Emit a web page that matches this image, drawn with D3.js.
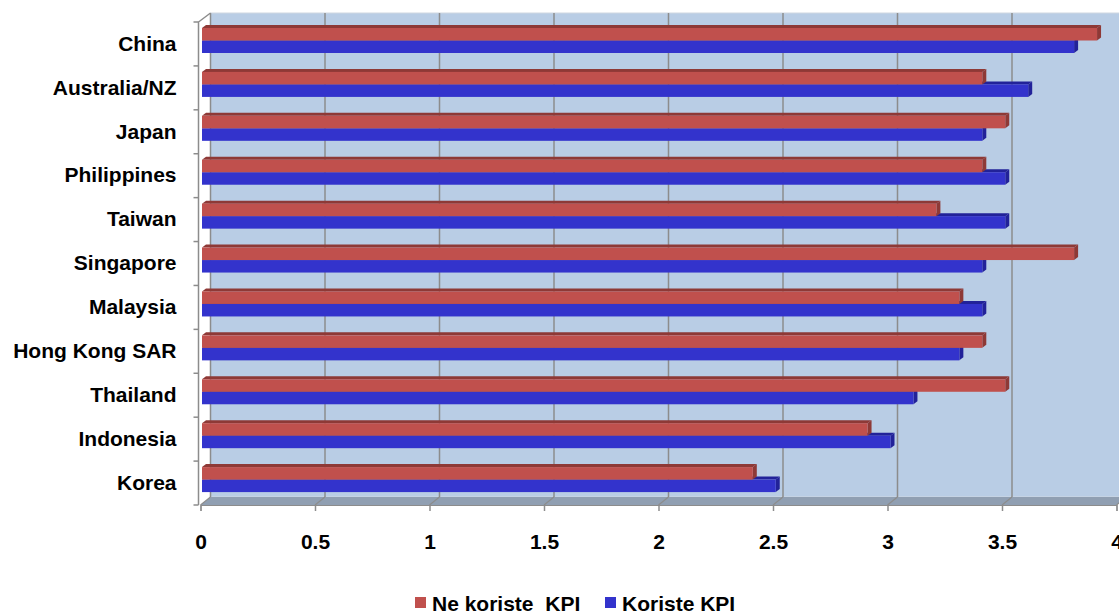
<!DOCTYPE html>
<html>
<head>
<meta charset="UTF-8">
<title>KPI</title>
<script src="https://d3js.org/d3.v7.min.js"></script>
<style>
  body { margin: 0; background: #fff; }
  text { font-family: "Liberation Sans", Arial, sans-serif; font-weight: bold; font-size: 21px; fill: #000; }
  .axis path, .axis line { stroke: #8c8c8c; }
</style>
</head>
<body>
<div id="chart"></div>
<script>
const countries = ["China", "Australia/NZ", "Japan", "Philippines", "Taiwan", "Singapore",
                   "Malaysia", "Hong Kong SAR", "Thailand", "Indonesia", "Korea"];
const seriesNames = ["Ne koriste  KPI", "Koriste KPI"];
const neKoriste = [3.9, 3.4, 3.5, 3.4, 3.2, 3.8, 3.3, 3.4, 3.5, 2.9, 2.4];
const koriste   = [3.8, 3.6, 3.4, 3.5, 3.5, 3.4, 3.4, 3.3, 3.1, 3.0, 2.5];
const xTicks = [0, 0.5, 1, 1.5, 2, 2.5, 3, 3.5, 4];
const colors = ["#c0504d", "#3333cc"];
const darker = ["#8e3936", "#222299"];

const W = 1119, H = 612;
const svg = d3.select("#chart").append("svg").attr("width", W).attr("height", H);

// 3D frame: front plane and back wall offset
const dx = 10, dy = -8;
const frontTop = 22, frontBottom = 505;
const xFront = d3.scaleLinear().domain([0, 4]).range([200.5, 1116.5]);
const xBack = d3.scaleLinear().domain([0, 4]).range([200.5 + dx, 1116.5 + dx]);
const xBar = d3.scaleLinear().domain([0, 4]).range([202, 202 + 4 * 229.5]);

const y0 = d3.scaleBand().domain(countries).range([frontTop, frontBottom]);
const y1 = d3.scaleBand().domain(seriesNames).range([6, 31]);

// back wall
svg.append("rect")
  .attr("x", xBack(0)).attr("y", frontTop + dy - 1)
  .attr("width", xBack(4) - xBack(0)).attr("height", frontBottom - frontTop + 1)
  .attr("fill", "#b9cde5").attr("stroke", "#d0d8e2");

// back wall gridlines
svg.selectAll(".grid").data(xTicks).enter().append("line")
  .attr("x1", d => xBack(d)).attr("x2", d => xBack(d))
  .attr("y1", frontTop + dy - 1).attr("y2", frontBottom + dy)
  .attr("stroke", "#8c8c8c").attr("stroke-width", 1.5);

// floor
svg.append("polygon")
  .attr("points", [[xFront(0), frontBottom], [xFront(4), frontBottom],
                   [xBack(4), frontBottom + dy], [xBack(0), frontBottom + dy]].join(" "))
  .attr("fill", "#909fb2");
svg.selectAll(".fgrid").data(xTicks).enter().append("line")
  .attr("x1", d => xFront(d)).attr("y1", frontBottom)
  .attr("x2", d => xBack(d)).attr("y2", frontBottom + dy)
  .attr("stroke", "#8c8c8c").attr("stroke-width", 1.2);

// left wall edges
svg.append("path")
  .attr("d", `M${xFront(0) - 2},${frontBottom} L${xFront(0) - 2},${frontTop} L${xBack(0)},${frontTop + dy - 1}`)
  .attr("fill", "none").attr("stroke", "#8c8c8c").attr("stroke-width", 1.5);

// category boundary ticks on left
const bounds = countries.map(c => y0(c)).concat([frontBottom]);
svg.selectAll(".ltick").data(bounds).enter().append("line")
  .attr("x1", xFront(0) - 7).attr("x2", xFront(0) - 2)
  .attr("y1", d => d).attr("y2", d => d)
  .attr("stroke", "#8c8c8c").attr("stroke-width", 1.5);

// bars
const bd = { x: 4, y: -3 };
const rows = countries.map((c, i) => [
  { c, s: 0, v: neKoriste[i] },
  { c, s: 1, v: koriste[i] }
]);
const g = svg.append("g");
rows.forEach(pair => {
  // draw blue first then red so red front covers blue top face
  [pair[1], pair[0]].forEach(d => {
    const yt = y0(d.c) + y1(seriesNames[d.s]);
    const h = y1.bandwidth();
    const x0 = xBar(0), x1 = xBar(d.v);
    // top face
    g.append("polygon")
      .attr("points", [[x0, yt], [x1, yt], [x1 + bd.x, yt + bd.y], [x0 + bd.x, yt + bd.y]].join(" "))
      .attr("fill", darker[d.s]);
    // side face
    g.append("polygon")
      .attr("points", [[x1, yt], [x1 + bd.x, yt + bd.y], [x1 + bd.x, yt + h + bd.y], [x1, yt + h]].join(" "))
      .attr("fill", darker[d.s]);
    // front face
    g.append("rect")
      .attr("x", x0).attr("y", yt).attr("width", x1 - x0).attr("height", h)
      .attr("fill", colors[d.s]);
  });
});

// x axis
const xAxis = svg.append("g").attr("class", "axis")
  .attr("transform", `translate(0,${frontBottom})`)
  .call(d3.axisBottom(xFront).tickValues(xTicks).tickSize(6).tickPadding(23)
        .tickFormat(d3.format("")));
xAxis.select(".domain").attr("stroke", "#a0a0a0");
xAxis.selectAll("line").attr("stroke-width", 1.5);

// y axis labels
const yAxis = svg.append("g").attr("class", "axis")
  .attr("transform", `translate(${xFront(0) - 2},0)`)
  .call(d3.axisLeft(y0).tickSize(0).tickPadding(22));
yAxis.select(".domain").remove();

// legend
const legend = svg.append("g").attr("transform", "translate(0,0)");
const legX = [415, 605];
seriesNames.forEach((n, i) => {
  legend.append("rect").attr("x", legX[i]).attr("y", 597)
    .attr("width", 11).attr("height", 11).attr("fill", colors[i]);
  legend.append("text").attr("x", legX[i] + 17).attr("y", 611)
    .style("white-space", "pre").text(n);
});
</script>
</body>
</html>
